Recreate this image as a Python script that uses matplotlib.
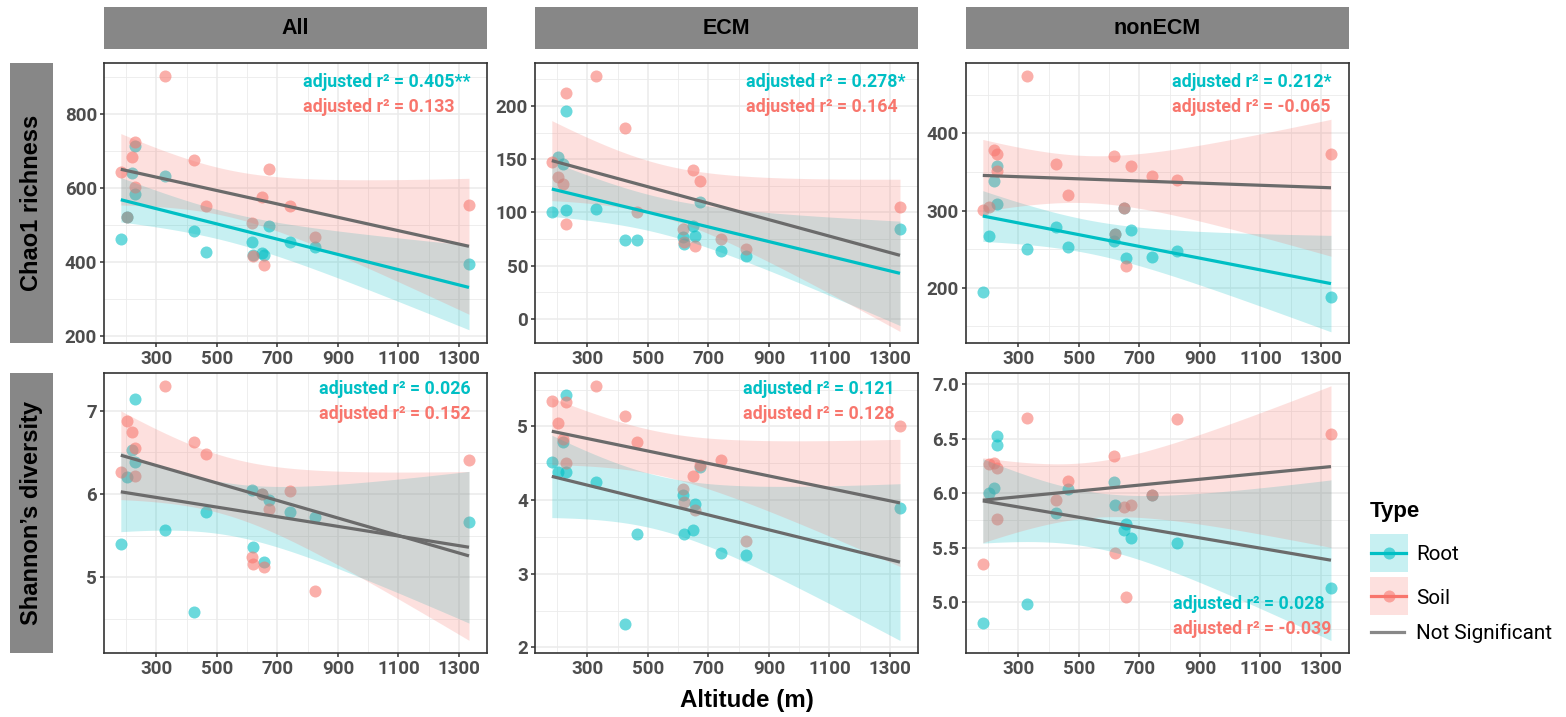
import numpy as np
import matplotlib.pyplot as plt
from matplotlib.patches import Rectangle
from matplotlib.ticker import FixedLocator

plt.rcParams['font.family'] = ['Roboto', 'DejaVu Sans']

W, H = 1566, 717

# sampling sites (m a.s.l.)
altitude = np.array([183, 204, 221, 229, 231, 330, 424, 465, 617, 619, 651, 656, 673, 742, 824, 1333])

# Chao1 richness
chao1_all_root = [462, 521, 642, 713, 584, 633, 483, 427, 453, 418, 425, 420, 498, 453, 442, 395]
chao1_all_soil = [645, 521, 684, 726, 604, 904, 675, 552, 505, 415, 575, 393, 652, 552, 468, 554]
chao1_ecm_root = [100, 152, 145, 195, 102, 103, 74, 74, 77, 70, 87, 78, 110, 64, 59, 84]
chao1_ecm_soil = [147, 133, 127, 212, 89, 228, 179, 100, 84, 72, 140, 68, 129, 75, 66, 105]
chao1_non_root = [194, 267, 339, 358, 308, 250, 279, 253, 260, 270, 303, 239, 275, 240, 248, 188]
chao1_non_soil = [301, 305, 379, 374, 351, 474, 361, 320, 371, 270, 303, 228, 358, 345, 340, 374]

# Shannon's diversity
shan_all_root = [5.40, 6.20, 6.53, 7.14, 6.39, 5.57, 4.58, 5.78, 6.05, 5.36, 6.00, 5.19, 5.93, 5.78, 5.72, 5.66]
shan_all_soil = [6.27, 6.88, 6.75, 6.55, 6.22, 7.30, 6.62, 6.48, 5.25, 5.16, 6.00, 5.13, 5.82, 6.04, 4.84, 6.41]
shan_ecm_root = [4.51, 4.38, 4.79, 5.42, 4.38, 4.24, 2.32, 3.54, 4.07, 3.54, 3.60, 3.94, 4.45, 3.28, 3.25, 3.89]
shan_ecm_soil = [5.34, 5.05, 4.83, 5.33, 4.50, 5.55, 5.14, 4.79, 4.15, 3.98, 4.33, 3.86, 4.47, 4.54, 3.44, 5.01]
shan_non_root = [4.81, 6.00, 6.05, 6.52, 6.44, 4.98, 5.82, 6.04, 6.10, 5.89, 5.66, 5.72, 5.59, 5.98, 5.54, 5.13]
shan_non_soil = [5.35, 6.27, 6.28, 6.23, 5.76, 6.69, 5.94, 6.11, 6.34, 5.45, 5.87, 5.05, 5.89, 5.98, 6.68, 6.54]

columns = ['All', 'ECM', 'nonECM']
rows = ['Chao1 richness', "Shannon\u2019s diversity"]

values = [
    [(chao1_all_root, chao1_all_soil), (chao1_ecm_root, chao1_ecm_soil), (chao1_non_root, chao1_non_soil)],
    [(shan_all_root, shan_all_soil), (shan_ecm_root, shan_ecm_soil), (shan_non_root, shan_non_soil)],
]

r2_labels = [
    [('0.405**', '0.133'), ('0.278*', '0.164'), ('0.212*', '-0.065')],
    [('0.026', '0.152'), ('0.121', '0.128'), ('0.028', '-0.039')],
]

# axis settings per panel
ylims = [[(180, 938), (-23, 240), (128, 491)],
         [(4.09, 7.45), (1.92, 5.72), (4.53, 7.10)]]
yticks = [[[200, 400, 600, 800], [0, 50, 100, 150, 200], [200, 300, 400]],
          [[5, 6, 7], [2, 3, 4, 5], [5.0, 5.5, 6.0, 6.5, 7.0]]]
ytick_fmt = [['{:.0f}', '{:.0f}', '{:.0f}'], ['{:.0f}', '{:.0f}', '{:.1f}']]
xticks = [300, 500, 700, 900, 1100, 1300]
xminor = [200, 400, 600, 800, 1000, 1200]

label_x = [[0.52, 0.55, 0.538], [0.561, 0.543, 0.54]]
label_y = [[(0.934, 0.843), (0.934, 0.843), (0.934, 0.843)],
           [(0.944, 0.855), (0.944, 0.855), (0.175, 0.086)]]

ROOT = '#00BFC4'
SOIL = '#F8766D'
NS = '#6B6B6B'
STRIP = '#878787'
PT_SIZE = 75

T_CRIT = 2.145  # t(0.975, df=14)


def lm_band(x, y, n=80):
    x = np.asarray(x, float)
    y = np.asarray(y, float)
    b, a = np.polyfit(x, y, 1)
    resid = y - (a + b * x)
    s = np.sqrt(np.sum(resid ** 2) / (len(x) - 2))
    xs = np.linspace(x.min(), x.max(), n)
    se = s * np.sqrt(1 / len(x) + (xs - x.mean()) ** 2 / np.sum((x - x.mean()) ** 2))
    fit = a + b * xs
    return xs, fit, fit - T_CRIT * se, fit + T_CRIT * se


fig = plt.figure(figsize=(W / 100, H / 100), dpi=100)

panel_left = [104, 535, 966]
panel_top = [63.3, 373.3]
pw, ph = 383, 280

for r in range(2):
    for c in range(3):
        ax = fig.add_axes([panel_left[c] / W, 1 - (panel_top[r] + ph) / H, pw / W, ph / H])
        root, soil = values[r][c]
        for ys, col in ((root, ROOT), (soil, SOIL)):
            ax.scatter(altitude, ys, s=PT_SIZE, color=col, alpha=0.58, lw=0, zorder=2)
        for (ys, col), lab in zip(((root, ROOT), (soil, SOIL)), r2_labels[r][c]):
            xs, fit, lo, hi = lm_band(altitude, ys)
            ax.fill_between(xs, lo, hi, color=col, alpha=0.22, lw=0, zorder=3)
            line_col = col if '*' in lab else NS
            ax.plot(xs, fit, color=line_col, lw=2.3, zorder=4, solid_capstyle='butt')
        for (lab, col), yy in zip(zip(r2_labels[r][c], (ROOT, SOIL)), label_y[r][c]):
            ax.text(label_x[r][c], yy, 'adjusted r\u00b2 = ' + lab, transform=ax.transAxes,
                    color=col, fontsize=12.8, fontweight='bold', ha='left', va='center', zorder=5)

        ax.set_xlim(127.5, 1392.5)
        ax.set_ylim(*ylims[r][c])
        ax.set_xticks(xticks)
        ax.xaxis.set_minor_locator(FixedLocator(xminor))
        yt = yticks[r][c]
        ax.set_yticks(yt)
        ax.set_yticklabels([ytick_fmt[r][c].format(v) for v in yt])
        step = yt[1] - yt[0]
        ax.yaxis.set_minor_locator(FixedLocator([v - step / 2 for v in yt] + [yt[-1] + step / 2]))
        ax.grid(which='major', color='#EBEBEB', lw=1.1, zorder=0)
        ax.grid(which='minor', color='#EBEBEB', lw=0.6, zorder=0)
        ax.set_axisbelow(True)
        ax.tick_params(which='major', length=3, width=1.1, color='#333333', labelsize=13.5,
                       labelcolor='#4D4D4D', pad=2)
        ax.tick_params(which='minor', length=0)
        for lbl in ax.get_xticklabels() + ax.get_yticklabels():
            lbl.set_fontweight('bold')
        for sp in ax.spines.values():
            sp.set_color('#333333')
            sp.set_linewidth(1.2)

        if r == 0:
            sax = fig.add_axes([panel_left[c] / W, 1 - 49 / H, pw / W, 42 / H])
            sax.set_facecolor(STRIP)
            sax.set_xticks([])
            sax.set_yticks([])
            for sp in sax.spines.values():
                sp.set_visible(False)
            sax.text(0.5, 0.5, columns[c], transform=sax.transAxes, ha='center', va='center',
                     fontsize=15.5, fontweight='bold', family='Liberation Sans', color='black')
    sax = fig.add_axes([10 / W, 1 - (panel_top[r] + ph) / H, 43 / W, ph / H])
    sax.set_facecolor(STRIP)
    sax.set_xticks([])
    sax.set_yticks([])
    for sp in sax.spines.values():
        sp.set_visible(False)
    sax.text(0.5, 0.5, rows[r], transform=sax.transAxes, ha='center', va='center', rotation=90,
             fontsize=17, fontweight='bold', family='Liberation Sans', color='black')

fig.text(747 / W, 1 - 700 / H, 'Altitude (m)', ha='center', va='center', fontsize=17.4,
         fontweight='bold', family='Liberation Sans')

# legend drawn in pixel space
lax = fig.add_axes([0, 0, 1, 1], facecolor='none')
lax.set_xlim(0, W)
lax.set_ylim(H, 0)
lax.axis('off')
lax.text(1370, 511, 'Type', ha='left', va='center', fontsize=16, fontweight='bold',
         family='Liberation Sans')
for (top, col, name) in ((534, ROOT, 'Root'), (577, SOIL, 'Soil')):
    lax.add_patch(Rectangle((1370, top), 38, 38, color=col, alpha=0.22, lw=0))
    lax.plot([1371, 1406], [top + 19, top + 19], color=col, lw=2.3)
    lax.scatter([1389], [top + 19], s=PT_SIZE, color=col, alpha=0.58, lw=0)
    lax.text(1416, top + 21, name, ha='left', va='center', fontsize=14.9)
lax.plot([1371, 1404], [632, 632], color='#888888', lw=2.3)
lax.text(1416, 633, 'Not Significant', ha='left', va='center', fontsize=14.9)

fig.savefig('out.png', dpi=100)
